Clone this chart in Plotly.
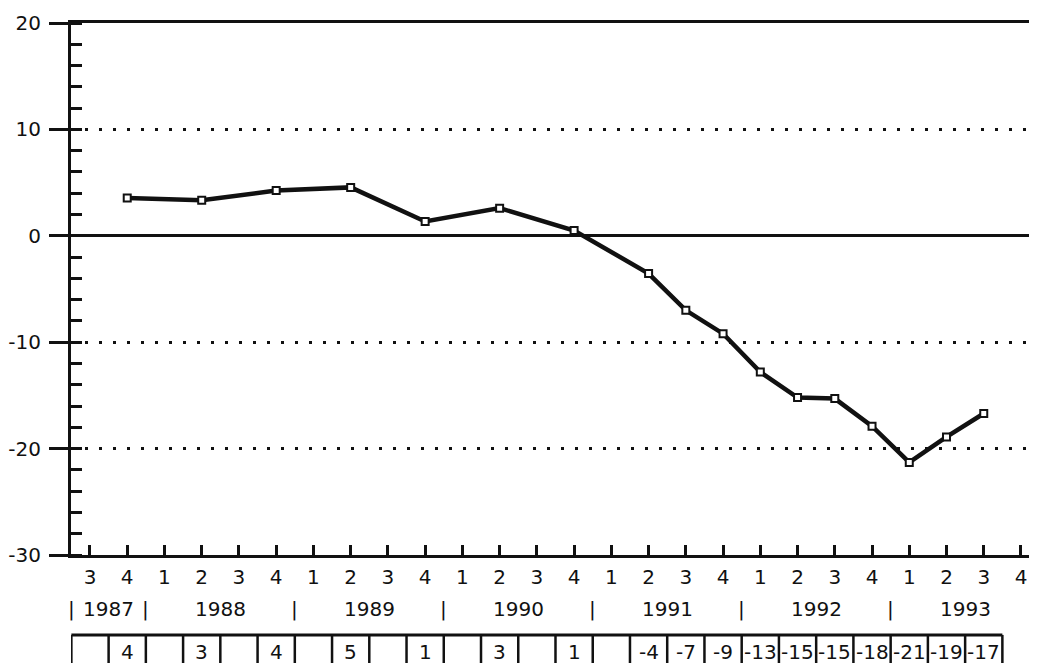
import plotly.graph_objects as go

# ---- data ----
quarter_ids = ["1987Q3", "1987Q4",
               "1988Q1", "1988Q2", "1988Q3", "1988Q4",
               "1989Q1", "1989Q2", "1989Q3", "1989Q4",
               "1990Q1", "1990Q2", "1990Q3", "1990Q4",
               "1991Q1", "1991Q2", "1991Q3", "1991Q4",
               "1992Q1", "1992Q2", "1992Q3", "1992Q4",
               "1993Q1", "1993Q2", "1993Q3", "1993Q4"]
quarter_labels = ["3", "4",
                  "1", "2", "3", "4",
                  "1", "2", "3", "4",
                  "1", "2", "3", "4",
                  "1", "2", "3", "4",
                  "1", "2", "3", "4",
                  "1", "2", "3", "4"]
years = ["1987", "1988", "1989", "1990", "1991", "1992", "1993"]
y_tickvals = [20, 10, 0, -10, -20, -30]
y_ticktext = ["20", "10", "0", "-10", "-20", "-30"]

periods = ["1987Q4", "1988Q2", "1988Q4", "1989Q2", "1989Q4", "1990Q2", "1990Q4",
           "1991Q2", "1991Q3", "1991Q4", "1992Q1", "1992Q2", "1992Q3", "1992Q4",
           "1993Q1", "1993Q2", "1993Q3"]
values = [3.55, 3.35, 4.25, 4.55, 1.35, 2.6, 0.5,
          -3.55, -7.0, -9.2, -12.8, -15.2, -15.3, -17.9,
          -21.3, -18.9, -16.7]
table_values = ["4", "3", "4", "5", "1", "3", "1",
                "-4", "-7", "-9", "-13", "-15", "-15", "-18",
                "-21", "-19", "-17"]

FONT = "DejaVu Sans, Verdana, sans-serif"
FS = 20
BLACK = "#111111"

fig = go.Figure()
fig.add_trace(go.Scatter(
    x=periods, y=values, mode="lines+markers",
    line=dict(color=BLACK, width=4.5),
    marker=dict(symbol="square", size=7, color="white",
                line=dict(color=BLACK, width=2)),
    showlegend=False, cliponaxis=False,
))

# plot geometry helpers (paper coordinates below the plot)
PLOT_H = 532.5
def py(px_below_axis):
    return -px_below_axis / PLOT_H

shapes = []
annotations = []

# year separators and labels
idx = {q: i for i, q in enumerate(quarter_ids)}
year_first = {}
year_last = {}
for q in quarter_ids:
    y = q[:4]
    year_first.setdefault(y, idx[q])
    year_last[y] = idx[q]
seps = [-0.5] + [year_last[y] + 0.5 for y in years[:-1]]
for s in seps:
    annotations.append(dict(x=s, y=py(54), xref="x", yref="paper", text="|",
                            showarrow=False, font=dict(size=FS, family=FONT, color=BLACK),
                            xanchor="center", yanchor="middle"))
for y in years:
    c = (year_first[y] + year_last[y]) / 2
    annotations.append(dict(x=c, y=py(54), xref="x", yref="paper", text=y,
                            showarrow=False, font=dict(size=FS, family=FONT, color=BLACK),
                            xanchor="center", yanchor="middle"))

# table row
last_cell = idx[periods[-1]]
table_top = py(80)
table_bot = py(140)
shapes.append(dict(type="line", xref="x", yref="paper", x0=-0.5, x1=last_cell + 0.5,
                   y0=table_top, y1=table_top, line=dict(color=BLACK, width=3)))
for k in range(0, last_cell + 2):
    shapes.append(dict(type="line", xref="x", yref="paper", x0=k - 0.5, x1=k - 0.5,
                       y0=table_top, y1=table_bot, line=dict(color=BLACK, width=2.5)))
for p, t in zip(periods, table_values):
    annotations.append(dict(x=idx[p], y=py(97), xref="x", yref="paper", text=t,
                            showarrow=False, font=dict(size=FS, family=FONT, color=BLACK),
                            xanchor="center", yanchor="middle"))

# the page body has an 8px default margin: the figure is sized to fill the rest
fig.update_layout(
    width=1029, height=655,
    margin=dict(l=63, r=0, t=14.5, b=108, pad=0),
    paper_bgcolor="white", plot_bgcolor="white",
    font=dict(family=FONT, color=BLACK, size=FS),
    shapes=shapes, annotations=annotations,
    xaxis=dict(
        type="category", categoryarray=quarter_ids, categoryorder="array",
        range=[-0.51, 25.43],
        tickmode="array", tickvals=quarter_ids, ticktext=quarter_labels,
        ticks="inside", ticklen=10, tickwidth=3, tickcolor=BLACK,
        showline=True, linewidth=3, linecolor=BLACK, mirror=True,
        showgrid=False, zeroline=False,
        tickfont=dict(size=FS, family=FONT, color=BLACK),
        ticklabelstandoff=2,
    ),
    yaxis=dict(
        range=[-30, 20],
        tickmode="array", tickvals=y_tickvals, ticktext=y_ticktext,
        ticks="outside", ticklen=19, tickwidth=3, tickcolor=BLACK,
        minor=dict(ticks="inside", ticklen=11, tickwidth=3, tickcolor=BLACK,
                   tickmode="linear", tick0=0, dtick=2, showgrid=False),
        showline=True, linewidth=3, linecolor=BLACK,
        showgrid=True, gridcolor=BLACK, gridwidth=3, griddash="3px,11px",
        zeroline=True, zerolinecolor=BLACK, zerolinewidth=3,
        tickfont=dict(size=FS, family=FONT, color=BLACK),
        ticklabelstandoff=4,
    ),
)

fig.write_html("out.html")
